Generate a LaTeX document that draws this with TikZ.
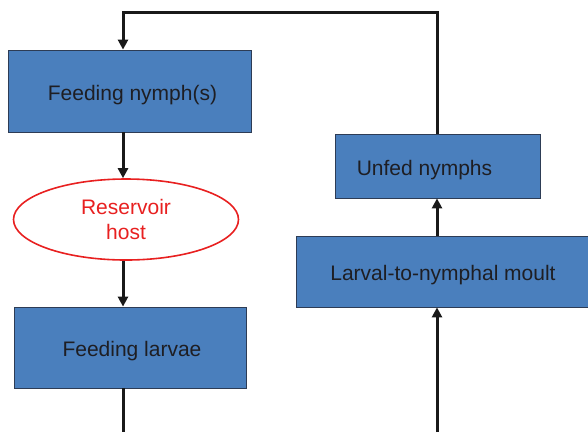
\documentclass[tikz,border=0pt]{standalone}
\usepackage{fontspec}
\setmainfont{Liberation Sans}
\usetikzlibrary{arrows.meta,shapes.geometric}
\definecolor{boxblue}{RGB}{74,127,189}
\definecolor{boxline}{RGB}{45,60,85}
\definecolor{hostred}{RGB}{232,32,32}
\definecolor{txtdark}{RGB}{30,30,35}
\begin{document}
\begin{tikzpicture}[x=1pt,y=-1pt,
        stage/.style = {draw=boxline, line width=0.8pt, fill=boxblue, text=txtdark,
            inner sep=0pt, text height=19pt, text depth=0.4pt, font=\fontsize{21}{25}\selectfont},
        host/.style = {ellipse, draw=hostred, line width=1.6pt, fill=white, text=hostred,
            inner sep=0pt, align=center, font=\fontsize{21}{25}\selectfont},
        arr/.style = {line width=3pt, draw=black!90, -{Triangle[length=10pt,width=10pt]}}]
        \useasboundingbox (0,0) rectangle (588,432);
        %Left column
        \node[stage, minimum width=243, minimum height=82] (nymph) at (129.5,91) {Feeding nymph(s)\hspace*{-6pt}};
        \node[host, minimum width=225, minimum height=81] (host) at (126,219.5) {Reservoir\\host};
        \node[stage, minimum width=232, minimum height=81] (larvae) at (130,347.5) {Feeding larvae\hspace*{-4pt}};
        %Right column
        \node[stage, minimum width=205, minimum height=64] (unfed) at (437.5,166) {Unfed nymphs\hspace*{26pt}};
        \node[stage, minimum width=294, minimum height=71] (moult) at (443,271.5) {Larval-to-nymphal moult};
        %Line ends
        \coordinate (lcol) at (123,0);
        \coordinate (rcol) at (437,0);
        \coordinate (turn) at (123,12);
        \coordinate (lend) at (123,432);
        \coordinate (rend) at (437,432);
        %Connectors
        \draw[arr] (unfed.north -| rcol) |- (turn) -- (nymph.north -| lcol);
        \draw[arr] (nymph.south -| lcol) -- (host.north -| lcol);
        \draw[arr] (host.south -| lcol) -- (larvae.north -| lcol);
        \draw[line width=3pt, draw=black!90] (larvae.south -| lcol) -- (lend);
        \draw[arr] (rend) -- (moult.south -| rcol);
        \draw[arr] (moult.north -| rcol) -- (unfed.south -| rcol);
    \end{tikzpicture}
\end{document}
